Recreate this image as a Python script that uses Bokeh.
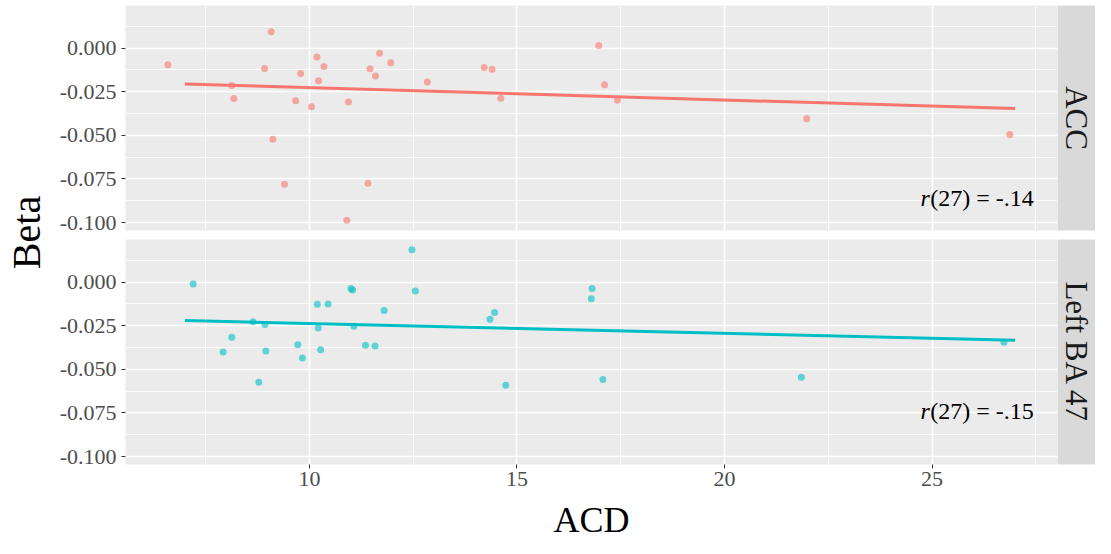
import math
from bokeh.plotting import figure
from bokeh.models import Range1d, FixedTicker
from bokeh.layouts import row, column
from bokeh.core.properties import value
from bokeh.embed import file_html
from bokeh.resources import INLINE

# ---------------- data ----------------
panels = ["ACC", "Left BA 47"]
colors = ["#F8766D", "#00BFC4"]

acd_acc = [6.59, 9.08, 8.13, 8.18, 8.92, 9.12, 9.40, 9.67, 9.79, 10.05, 10.18, 10.22,
           10.35, 10.94, 10.90, 11.41, 11.46, 11.59, 11.69, 11.96, 12.84, 14.21, 14.40,
           14.61, 16.97, 17.11, 17.42, 21.98, 26.87]
beta_acc = [-0.0096, 0.0093, -0.0215, -0.0289, -0.0117, -0.0523, -0.0781, -0.0302,
            -0.0146, -0.0336, -0.0052, -0.0187, -0.0106, -0.0310, -0.0987, -0.0775,
            -0.0119, -0.0160, -0.0030, -0.0085, -0.0195, -0.0111, -0.0121, -0.0288,
            0.0015, -0.0211, -0.0300, -0.0406, -0.0495]

acd_left = [7.20, 7.92, 8.13, 8.64, 8.78, 8.93, 8.95, 9.72, 9.83, 10.19, 10.21, 10.27,
            10.45, 11.00, 11.04, 11.07, 11.35, 11.58, 11.80, 12.47, 12.55, 14.35, 14.46,
            14.73, 16.81, 16.79, 17.07, 21.85, 26.73]
beta_left = [-0.0011, -0.0401, -0.0316, -0.0228, -0.0575, -0.0243, -0.0395, -0.0360,
             -0.0436, -0.0128, -0.0263, -0.0388, -0.0126, -0.0037, -0.0046, -0.0254,
             -0.0363, -0.0367, -0.0163, 0.0185, -0.0052, -0.0213, -0.0174, -0.0592,
             -0.0037, -0.0096, -0.0558, -0.0545, -0.0345]

fit_x = [7.0, 27.0]
fit_acc = [-0.0206, -0.0347]
fit_left = [-0.0221, -0.0333]

r_labels = ["(27) = -.14", "(27) = -.15"]
r_pos_x = [27.45, 27.45]
r_pos_y = [-0.0857, -0.0738]

x_ticks = [10, 15, 20, 25]
x_tick_labels = ["10", "15", "20", "25"]
x_minor = [7.5, 12.5, 17.5, 22.5, 27.5]
y_ticks = [-0.1, -0.075, -0.05, -0.025, 0.0]
y_tick_labels = ["-0.100", "-0.075", "-0.050", "-0.025", "0.000"]
y_minor = [-0.0875, -0.0625, -0.0375, -0.0125, 0.0125]

x_title = "ACD"
y_title = "Beta"

# ---------------- ranges ----------------
all_x = acd_acc + acd_left + fit_x
all_y = beta_acc + beta_left
xmin, xmax = min(all_x), max(all_x)
ymin, ymax = min(all_y), max(all_y)
xr = (xmax - xmin) * 0.05
yr = (ymax - ymin) * 0.05

SERIF = "Liberation Serif"
BETA_W = 50
LEFT_B = 75
FRAME_W = 932
FRAME_H = 225
STRIP_W = 38
TOP_B = 5
GAP = 9
AXIS_B = 34
TOTAL_H = 538
ACD_H = TOTAL_H - (TOP_B + FRAME_H + GAP) - (FRAME_H + AXIS_B)


def panel(xs, ys, fy, color, rlab, rx, ry, bottom):
    tb = 0 if bottom else TOP_B
    bb = AXIS_B if bottom else GAP
    p = figure(width=LEFT_B + FRAME_W, height=FRAME_H + tb + bb,
               x_range=Range1d(xmin - xr, xmax + xr),
               y_range=Range1d(ymin - yr, ymax + yr),
               output_backend="svg", toolbar_location=None,
               min_border_left=LEFT_B, min_border_right=0, min_border_top=tb,
               min_border_bottom=bb)
    p.background_fill_color = "#EBEBEB"
    p.border_fill_color = "white"
    p.outline_line_color = None

    for g, tk, mn in ((p.xgrid[0], x_ticks, x_minor), (p.ygrid[0], y_ticks, y_minor)):
        g.ticker = FixedTicker(ticks=tk, minor_ticks=mn)
        g.grid_line_color = "white"
        g.grid_line_width = 1.6
        g.minor_grid_line_color = "white"
        g.minor_grid_line_width = 0.8

    p.yaxis.ticker = FixedTicker(ticks=y_ticks)
    p.yaxis.major_label_overrides = dict(zip(y_ticks, y_tick_labels))
    p.xaxis.ticker = FixedTicker(ticks=x_ticks)
    p.xaxis.major_label_overrides = dict(zip(x_ticks, x_tick_labels))
    for ax in (p.xaxis[0], p.yaxis[0]):
        ax.axis_line_color = None
        ax.major_tick_line_color = "#333333"
        ax.major_tick_in = 0
        ax.major_tick_out = 4
        ax.minor_tick_line_color = None
        ax.major_label_text_font = SERIF
        ax.major_label_text_font_size = "22px"
        ax.major_label_text_color = "#4D4D4D"
    p.yaxis.major_label_standoff = 5
    p.xaxis.major_label_standoff = 3
    if not bottom:
        p.xaxis.visible = False

    p.scatter(xs, ys, size=7, fill_color=color, fill_alpha=0.6, line_color=None)
    p.line(fit_x, fy, line_color=color, line_width=3)
    p.text(x=[rx], y=[ry], text=[rlab], text_align="right", text_baseline="alphabetic",
           text_font=value(SERIF), text_font_size="24px", text_color="black")
    p.text(x=[rx], y=[ry], text=["r"], text_align="right", text_baseline="alphabetic",
           x_offset=-104, text_font=value(SERIF), text_font_style="italic",
           text_font_size="24px", text_color="black")
    return p


def strip(label, bottom):
    tb = 0 if bottom else TOP_B
    bb = AXIS_B if bottom else GAP
    s = figure(width=STRIP_W, height=FRAME_H + tb + bb, x_range=Range1d(0, 1),
               y_range=Range1d(0, 1), output_backend="svg", toolbar_location=None,
               min_border_left=0, min_border_right=0, min_border_top=tb,
               min_border_bottom=bb)
    s.background_fill_color = "#D9D9D9"
    s.border_fill_color = "white"
    s.outline_line_color = None
    s.xaxis.visible = False
    s.yaxis.visible = False
    s.grid.visible = False
    s.text(x=[0.5], y=[0.5], text=[label], angle=-math.pi / 2, text_align="center",
           text_baseline="middle", text_font=value(SERIF), text_font_size="31px",
           text_color="#1A1A1A")
    return s


top = panel(acd_acc, beta_acc, fit_acc, colors[0], r_labels[0], r_pos_x[0], r_pos_y[0], False)
bot = panel(acd_left, beta_left, fit_left, colors[1], r_labels[1], r_pos_x[1], r_pos_y[1], True)
top_s = strip(panels[0], False)
bot_s = strip(panels[1], True)

acd_w = LEFT_B + FRAME_W + STRIP_W
acd = figure(width=acd_w, height=ACD_H, x_range=Range1d(0, acd_w), y_range=Range1d(ACD_H, 0),
             output_backend="svg", toolbar_location=None, min_border=0)
acd.outline_line_color = None
acd.xaxis.visible = False
acd.yaxis.visible = False
acd.grid.visible = False
acd.text(x=[LEFT_B + FRAME_W / 2], y=[ACD_H / 2 + 1], text=[x_title], text_align="center",
         text_baseline="middle", text_font=value(SERIF), text_font_size="36px",
         text_color="black")

beta = figure(width=BETA_W, height=TOTAL_H, x_range=Range1d(0, BETA_W),
              y_range=Range1d(TOTAL_H, 0), output_backend="svg", toolbar_location=None,
              min_border=0)
beta.outline_line_color = None
beta.xaxis.visible = False
beta.yaxis.visible = False
beta.grid.visible = False
beta.text(x=[26], y=[232], text=[y_title], angle=math.pi / 2, text_align="center",
          text_baseline="middle", text_font=value(SERIF), text_font_size="40px",
          text_color="black")

layout = row(beta, column(row(top, top_s), row(bot, bot_s), acd))

open("out.html", "w").write(file_html(layout, INLINE))
